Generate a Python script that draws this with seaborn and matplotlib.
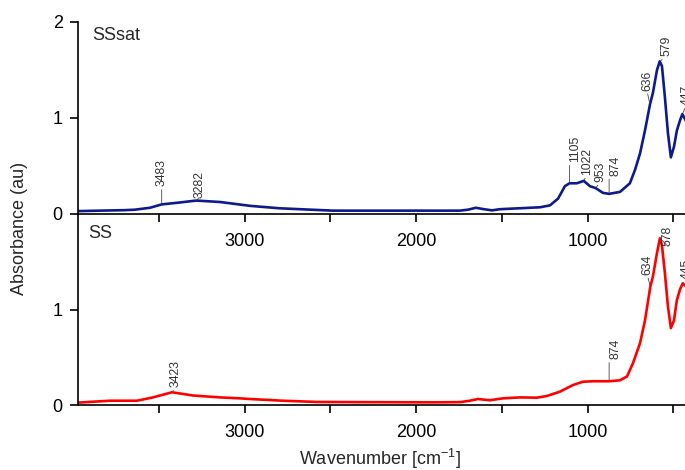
import numpy as np
import pandas as pd
import matplotlib
matplotlib.use("Agg")
import matplotlib.pyplot as plt
import seaborn as sns

# FTIR spectra: wavenumber (cm^-1) and absorbance (au)
sssat_wn = [3971, 3843, 3700, 3639, 3551, 3483, 3377, 3282, 3143, 2968, 2800, 2677,
            2484, 2094, 1744, 1697, 1651, 1604, 1557, 1511, 1394, 1277, 1219, 1172,
            1132, 1105, 1062, 1022, 986, 953, 910, 874, 811, 753, 723, 694, 665, 636,
            619, 595, 579, 566, 549, 531, 514, 496, 479, 460, 447, 420]
sssat_abs = [0.03, 0.035, 0.04, 0.045, 0.065, 0.10, 0.12, 0.14, 0.125, 0.085, 0.06, 0.05,
             0.035, 0.035, 0.035, 0.045, 0.065, 0.05, 0.038, 0.05, 0.06, 0.07, 0.09, 0.16,
             0.29, 0.32, 0.32, 0.345, 0.29, 0.27, 0.22, 0.21, 0.23, 0.32, 0.46, 0.63, 0.87, 1.14,
             1.26, 1.50, 1.59, 1.54, 1.22, 0.84, 0.59, 0.70, 0.87, 0.98, 1.04, 0.95]

ss_wn = [3971, 3785, 3627, 3534, 3423, 3301, 3143, 3027, 2968, 2776, 2578, 2286, 1901,
         1744, 1686, 1639, 1569, 1493, 1394, 1295, 1237, 1161, 1085, 1027, 968, 874, 811,
         770, 735, 694, 665, 634, 619, 595, 578, 566, 549, 531, 514, 496, 479, 460, 445, 420]
ss_abs = [0.025, 0.045, 0.045, 0.08, 0.134, 0.10, 0.08, 0.07, 0.063, 0.045, 0.032, 0.03, 0.028,
          0.03, 0.045, 0.063, 0.05, 0.07, 0.08, 0.077, 0.095, 0.14, 0.21, 0.245, 0.25, 0.25, 0.26,
          0.30, 0.44, 0.65, 0.89, 1.245, 1.35, 1.60, 1.755, 1.68, 1.39, 1.035, 0.81, 0.89, 1.105,
          1.22, 1.28, 1.24]

# Band labels: wavenumber, text offset (px), leader anchor on text
sssat_bands = [3483, 3282, 1105, 1022, 953, 874, 636, 579, 447]
sssat_offsets = [(0, 18, 0.5), (3, 3, 0.5), (6, 21, 0.0), (3, 6, 0.5), (5, 6, 0.5),
                 (6, 18, 0.0), (-3, 14, 0.5), (7, 5, 0.5), (4, 9, 0.5)]
ss_bands = [3423, 874, 634, 578, 445]
ss_offsets = [(4, 5, 0.5), (6, 22, 0.0), (-3, 12, 0.5), (8, -8, 0.5), (4, 4, 0.5)]

x_ticks = [3500, 3000, 2500, 2000, 1500, 1000, 500]
x_ticklabels = ["", "3000", "", "2000", "", "1000", ""]

sns.set_style("ticks")
plt.rcParams["font.family"] = ["Liberation Sans", "DejaVu Sans"]
plt.rcParams["mathtext.default"] = "regular"

W, H = 685, 470
fig = plt.figure(figsize=(W / 100, H / 100), dpi=100)

def frac_x(px):
    return px / W

def frac_y(px):
    return (H - px) / H

ax_top = fig.add_axes([frac_x(78), frac_y(214), frac_x(609), 192 / H])
ax_bot = fig.add_axes([frac_x(78), frac_y(405), frac_x(609), 190 / H])

df_top = pd.DataFrame({"wn": sssat_wn, "abs": sssat_abs})
df_bot = pd.DataFrame({"wn": ss_wn, "abs": ss_abs})

sns.lineplot(data=df_top, x="wn", y="abs", ax=ax_top, color="#0d1a8c", lw=1.9,
             estimator=None, sort=False)
sns.lineplot(data=df_bot, x="wn", y="abs", ax=ax_bot, color="#ff0000", lw=1.9,
             estimator=None, sort=False)

def px2pt(v):
    return v * 72 / 100

def label_bands(ax, wn, ab, bands, offsets):
    lookup = dict(zip(wn, ab))
    for b, (dx, dy, rx) in zip(bands, offsets):
        ax.annotate(str(b), xy=(b, lookup[b]), xytext=(px2pt(dx), px2pt(dy)),
                    textcoords="offset points", rotation=90, ha="center", va="bottom",
                    fontsize=8.8, color="#333333", annotation_clip=False,
                    arrowprops=dict(arrowstyle="-", lw=0.6, color="#444444",
                                    relpos=(rx, 0.0), shrinkA=0, shrinkB=1))

label_bands(ax_top, sssat_wn, sssat_abs, sssat_bands, sssat_offsets)
label_bands(ax_bot, ss_wn, ss_abs, ss_bands, ss_offsets)

for ax, yt in ((ax_top, [0, 1, 2]), (ax_bot, [0, 1])):
    ax.set_xlim(3971, 420)
    ax.set_ylim(0, 2)
    ax.set_xticks(x_ticks)
    ax.set_xticklabels(x_ticklabels)
    ax.set_yticks(yt)
    ax.set_xlabel("")
    ax.set_ylabel("")
    ax.patch.set_alpha(0)
    for side in ("top", "right"):
        ax.spines[side].set_visible(False)
    for side in ("left", "bottom"):
        ax.spines[side].set_linewidth(1.2)
        ax.spines[side].set_color("black")
    ax.tick_params(axis="both", direction="out", length=6, width=1.2, colors="black",
                   labelsize=13)
    ax.tick_params(axis="x", pad=8)
    ax.tick_params(axis="y", pad=5)

ax_top.text(0.023, 0.975, "SSsat", transform=ax_top.transAxes, ha="left", va="top",
            fontsize=13)
ax_bot.text(0.016, 0.945, "SS", transform=ax_bot.transAxes, ha="left", va="top",
            fontsize=13)

fig.text(frac_x(19.5), frac_y(228), "Absorbance (au)", rotation=90, ha="center",
         va="center", fontsize=13)
fig.text(frac_x(380), frac_y(465), "Wavenumber [cm$^{-1}$]", ha="center",
         va="baseline", fontsize=13)

fig.savefig("out.png", dpi=100)
